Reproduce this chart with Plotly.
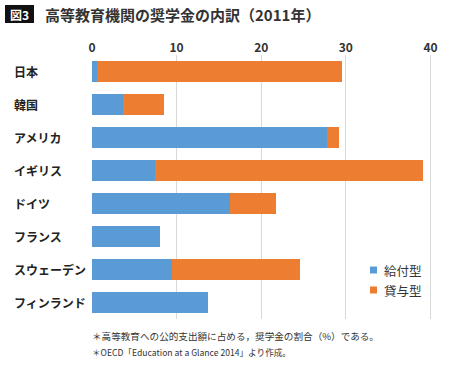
import plotly.graph_objects as go

categories = ["日本", "韓国", "アメリカ", "イギリス", "ドイツ", "フランス", "スウェーデン", "フィンランド"]
grant = [0.6, 3.7, 27.8, 7.5, 16.3, 8.0, 9.4, 13.7]
loan = [29.0, 4.8, 1.4, 31.6, 5.5, 0.0, 15.2, 0.0]
series_names = ["給付型", "貸与型"]
x_ticks = [0, 10, 20, 30, 40]

FONT = "Noto Sans CJK JP"
BLUE = "#5B9BD5"
ORANGE = "#ED7D31"
COLORS = [BLUE, ORANGE]

W, H = 453, 367
L, R, T, B = 92, 20, 55, 48
PW, PH = W - L - R, H - T - B


def px(x):
    return (x - L) / PW


def py(y):
    return (H - B - y) / PH


fig = go.Figure()
fig.add_trace(go.Bar(y=categories, x=grant, orientation="h", name=series_names[0],
                     marker=dict(color=BLUE, line=dict(width=0)), showlegend=False))
fig.add_trace(go.Bar(y=categories, x=loan, orientation="h", name=series_names[1],
                     marker=dict(color=ORANGE, line=dict(width=0)), showlegend=False))

fig.update_layout(
    width=W, height=H,
    margin=dict(l=L, r=R, t=T, b=B, autoexpand=False),
    barmode="stack", bargap=0.35,
    plot_bgcolor="white", paper_bgcolor="white",
    font=dict(family=FONT, color="#333333"),
    showlegend=False,
    xaxis=dict(side="top", range=[0, 40.3], tickvals=x_ticks, showgrid=True,
               gridcolor="#d9d9d9", gridwidth=1, zeroline=False, automargin=False,
               tickfont=dict(size=12, family=FONT, color="#333333", weight="bold"),
               ticks="", showline=False, fixedrange=True),
    yaxis=dict(autorange="reversed", showticklabels=False, showgrid=False, automargin=False,
               zeroline=False, showline=False, ticks="", fixedrange=True),
)

# category labels (left aligned)
for c in categories:
    fig.add_annotation(x=px(12), xref="paper", y=c, yref="y", text=c, showarrow=False,
                       xanchor="left",
                       font=dict(size=12, family=FONT, color="#222222", weight="bold"))

# legend (manual, to match small square markers)
for i, (name, col) in enumerate(zip(series_names, COLORS)):
    yc = 270 + 20 * i
    fig.add_shape(type="rect", xref="paper", yref="paper",
                  x0=px(370), x1=px(377), y0=py(yc + 3.5), y1=py(yc - 3.5),
                  fillcolor=col, line=dict(width=0))
    fig.add_annotation(x=px(382), xref="paper", y=py(yc), yref="paper", text=name,
                       showarrow=False, xanchor="left", yanchor="middle",
                       font=dict(size=12.5, family=FONT, color="#333333"))

# title
fig.add_shape(type="rect", xref="paper", yref="paper",
              x0=px(5), x1=px(34), y0=py(23), y1=py(5),
              fillcolor="#111111", line=dict(width=0))
fig.add_annotation(x=px(19.5), xref="paper", y=py(14), yref="paper", text="図3",
                   showarrow=False, xanchor="center", yanchor="middle",
                   font=dict(size=12, family=FONT, color="white", weight="bold"))
fig.add_annotation(x=px(43), xref="paper", y=py(14), yref="paper",
                   text="高等教育機関の奨学金の内訳（2011年）", showarrow=False,
                   xanchor="left", yanchor="middle",
                   font=dict(size=15, family=FONT, color="#333333", weight="bold"))

# footnotes
fig.add_annotation(x=px(90), xref="paper", y=py(336), yref="paper",
                   text="＊高等教育への公的支出額に占める，奨学金の割合（%）である。",
                   showarrow=False, xanchor="left", yanchor="middle",
                   font=dict(size=9.6, family=FONT, color="#333333"))
fig.add_annotation(x=px(90), xref="paper", y=py(352), yref="paper",
                   text="＊OECD「Education at a Glance 2014」より作成。",
                   showarrow=False, xanchor="left", yanchor="middle",
                   font=dict(size=8.6, family=FONT, color="#333333"))

fig.write_html("out.html", config={"displayModeBar": False},
               post_script="document.body.style.margin='0';document.body.style.padding='0';")
